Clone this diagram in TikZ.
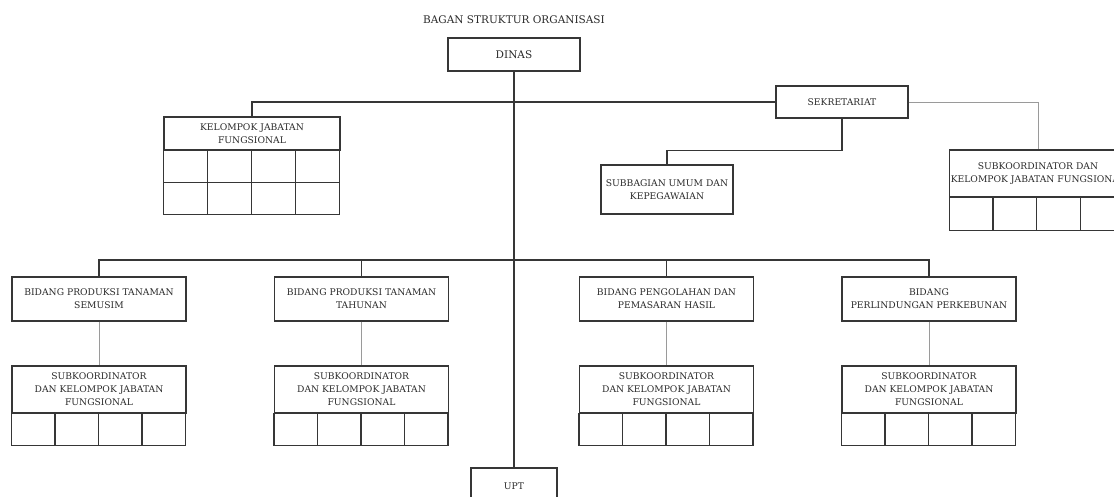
\documentclass[tikz,border=0pt]{standalone}
\usepackage{fontspec}
\setmainfont{DejaVu Serif}
\usetikzlibrary{calc}
\definecolor{orgInk}{HTML}{2B2B2B}
\definecolor{orgLine}{HTML}{363636}
\definecolor{orgGray}{HTML}{9A9A9A}
\tikzset{
  every picture/.style={font=\fontsize{9.2}{13}\selectfont, text=orgInk},
  org box/.style={draw=orgLine, line width=1.05pt, fill=white, align=center,
    inner sep=1pt, minimum width=174pt, minimum height=44pt},
  org head/.style={org box, font=\fontsize{10.5}{13}\selectfont},
  org cell/.style={draw=orgLine, line width=1.05pt},
  org link/.style={draw=orgLine, line width=1.05pt},
  org thin/.style={draw=orgGray, line width=0.85pt}
}

\begin{document}
\begin{tikzpicture}[x=1pt,y=-1pt]
  \useasboundingbox (0,0) rectangle (1114,497);
  \fill[white] (0,0) rectangle (1114,497);
  \node[font=\fontsize{10.5}{13}\selectfont] (title) at (514,20) {BAGAN STRUKTUR ORGANISASI};
  \node[org head, minimum width=132pt, minimum height=33pt] (dinas) at (514,54.5) {DINAS};
  \node[org box, minimum width=132pt, minimum height=32pt] (sekre) at (842,102) {SEKRETARIAT};
  \node[org box, minimum width=176pt, minimum height=33pt] (kjf) at (252,133.5) {KELOMPOK JABATAN\\FUNGSIONAL};
  \node[org box, minimum width=132pt, minimum height=49pt] (umum) at (667,189.5) {SUBBAGIAN UMUM DAN\\KEPEGAWAIAN};
  \node[org box, minimum width=175pt, minimum height=47pt] (subsek) at (1038,173.5) {SUBKOORDINATOR DAN\\KELOMPOK JABATAN FUNGSIONAL};
  \node[org box, minimum width=86pt, minimum height=36pt] (upt) at (514,486) {UPT};
  % cells under the two upper groups
  \draw[org cell] (kjf.south west) rectangle ++(176,64);
  \draw[org cell] ($(kjf.south west)+(0,32)$) -- ++(176,0);
  \foreach \k in {1,2,3} \draw[org cell] ($(kjf.south west)+(44*\k,0)$) -- ++(0,64);
  \draw[org cell] (subsek.south west) rectangle ++(175,33);
  \foreach \k in {1,2,3} \draw[org cell] ($(subsek.south west)+(43.75*\k,0)$) -- ++(0,33);
  % bidang row
  \foreach \n/\cx/\txt in {prodsem/99/{BIDANG PRODUKSI TANAMAN\\SEMUSIM},
      prodtah/361.5/{BIDANG PRODUKSI TANAMAN\\TAHUNAN},
      olah/666.5/{BIDANG PENGOLAHAN DAN\\PEMASARAN HASIL},
      lindung/929/{BIDANG\\PERLINDUNGAN PERKEBUNAN}} {
    \node[org box] (\n) at (\cx,299) {\txt};
    \node[org box, minimum height=47pt] (\n-sub) at (\cx,389.5) {SUBKOORDINATOR\\DAN KELOMPOK JABATAN\\FUNGSIONAL};
    \draw[org cell] (\n-sub.south west) rectangle ++(174,32);
    \foreach \k in {1,2,3} \draw[org cell] ($(\n-sub.south west)+(43.5*\k,0)$) -- ++(0,32);
    \draw[org thin] (\n.south) -- (\n-sub.north);
  }
  % connectors
  \draw[org link] (dinas.south) -- (upt.north);
  \draw[org link] (sekre.west) -| (kjf.north);
  \draw[org link] (sekre.south) -- ++(0,32) -| (umum.north);
  \draw[org thin] (sekre.east) -| (subsek.north);
  \coordinate (bus) at (514,260);
  \draw[org link] (prodsem.north) |- (bus) -| (lindung.north);
  \draw[org link] (prodtah.north) -- (prodtah.north |- bus);
  \draw[org link] (olah.north) -- (olah.north |- bus);
\end{tikzpicture}
\end{document}
